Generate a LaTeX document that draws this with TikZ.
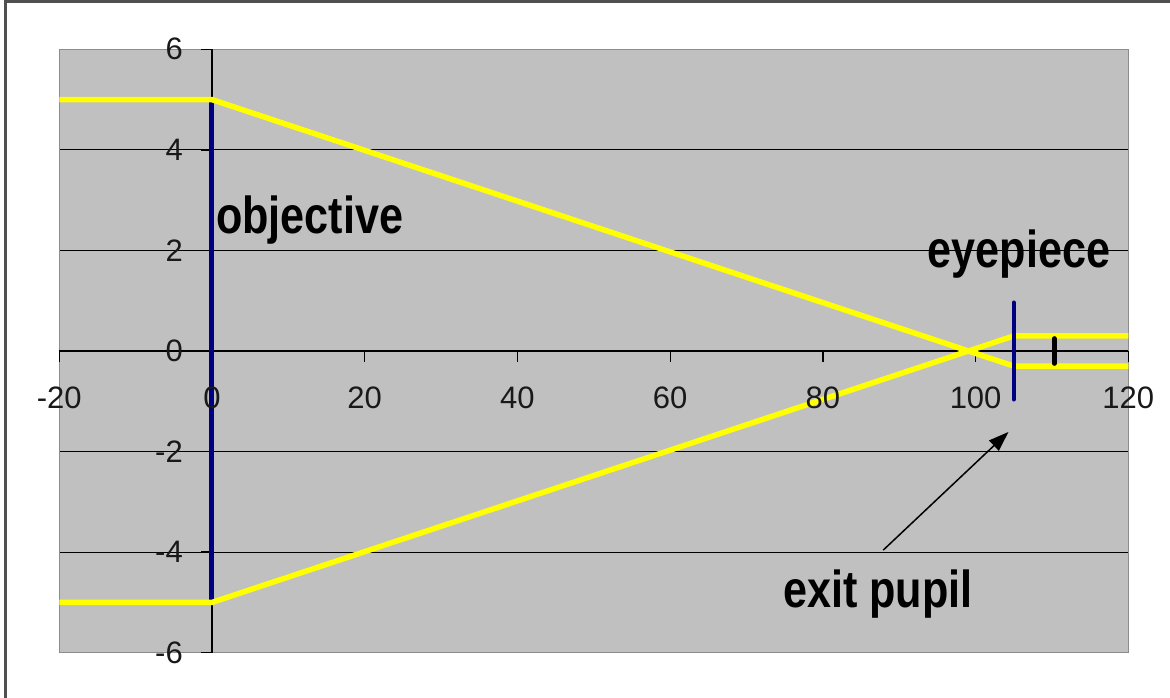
\documentclass[tikz,border=0pt]{standalone}
\usepackage{fontspec}
\setmainfont{Liberation Sans}
\newfontfamily\lblfont[FakeStretch=0.83]{Liberation Sans}
\usetikzlibrary{arrows.meta}
\definecolor{plotgray}{RGB}{192,192,192}
\definecolor{borderg}{RGB}{140,140,140}
\definecolor{framec}{RGB}{80,80,80}
\definecolor{raycol}{RGB}{255,255,0}
\definecolor{lensblue}{RGB}{0,0,128}
\begin{document}
\begin{tikzpicture}[x=7.636bp,y=50.28bp,
  ticklbl/.style={font=\fontsize{31bp}{34bp}\selectfont, text=black!90, inner sep=0pt},
  lbl/.style={font=\lblfont\bfseries\fontsize{52bp}{56bp}\selectfont, inner sep=0pt},
  gridline/.style={black, line width=1.2bp},
  axisline/.style={black, line width=1.3bp},
  raystyle/.style={raycol, line width=5.5bp},
  lensline/.style={lensblue, line width=5bp}]
\useasboundingbox (-27.763,-6.901) rectangle (125.458,6.981);
% outer frame (top and left edges)
\draw[framec, line width=2.5bp] (-27.043,-6.901) -- (-27.043,6.951) -- (125.458,6.951);
% plot area
\fill[plotgray] (-20,-6) rectangle (120,6);
\foreach \y in {-4,-2,2,4} \draw[gridline] (-20,\y) -- (120,\y);
\draw[borderg, line width=1.5bp] (-20,-6) rectangle (120,6);
% axes
\draw[axisline] (-20,0) -- (120,0);
\draw[axisline] (0,-6) -- (0,6);
\foreach \x in {-20,0,20,40,60,80,100,120} \draw[axisline] (\x,0) -- (\x,-0.219);
\foreach \y in {-6,-4,-2,0,2,4,6} \draw[axisline] (0,\y) -- (-1.44,\y);
% objective
\draw[lensline] (0,4.95) -- (0,-4.95);
% rays
\draw[raystyle] (-20,5) -- (0,5) -- (105,-0.3) -- (120,-0.3);
\draw[raystyle] (-20,-5) -- (0,-5) -- (105,0.3) -- (120,0.3);
% eyepiece
\draw[lensblue, line width=4.5bp, line cap=round] (105,0.96) -- (105,-0.96);
% exit pupil marker
\draw[black, line width=4.5bp, line cap=round] (110.3,0.25) -- (110.3,-0.25);
% tick labels
\foreach \x in {-20,0,20,40,60,80,100,120}
  \node[ticklbl] (xl\x) at (\x,-0.925) {\x};
\foreach \y in {-6,-4,-2,0,2,4,6}
  \node[ticklbl, anchor=east] (yl\y) at (-3.8,\y) {\y};
% labels
\node[lbl, anchor=base west] (objl) at (0.5,2.347) {objective};
\node[lbl, anchor=base] (eyel) at (105.7,1.67) {eyepiece};
\node[lbl, anchor=base] (pupill) at (87.22,-5.11) {exit pupil};
\coordinate (atail) at (87.9,-3.96);
\coordinate (ahead) at (104.3,-1.61);
\draw[-{Triangle[length=20bp,width=14bp]}, line width=1.5bp] (atail) -- (ahead);
\end{tikzpicture}
\end{document}
